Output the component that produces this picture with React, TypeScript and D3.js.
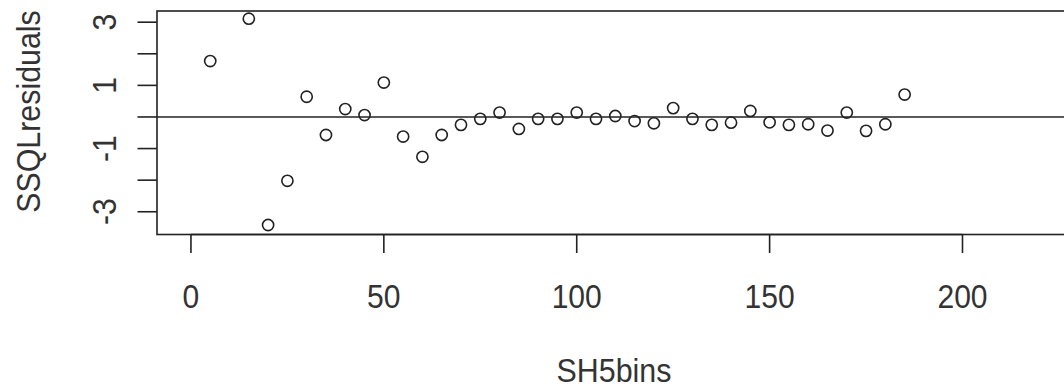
import React from "react";
import * as d3 from "d3";

const xValues = [5, 15, 20, 25, 30, 35, 40, 45, 50, 55, 60, 65, 70, 75, 80, 85, 90, 95, 100, 105, 110, 115, 120, 125, 130, 135, 140, 145, 150, 155, 160, 165, 170, 175, 180, 185];
const yValues = [1.77, 3.11, -3.42, -2.02, 0.64, -0.57, 0.25, 0.06, 1.09, -0.62, -1.26, -0.57, -0.25, -0.06, 0.14, -0.38, -0.06, -0.06, 0.14, -0.06, 0.03, -0.13, -0.2, 0.28, -0.06, -0.25, -0.18, 0.19, -0.17, -0.25, -0.23, -0.43, 0.14, -0.44, -0.23, 0.71];
const xTicks = [0, 50, 100, 150, 200];
const yTicks = [-3, -2, -1, 0, 1, 2, 3];
const yTickLabels = [-3, -1, 1, 3];
const xTitle = "SH5bins";
const yTitle = "SSQLresiduals";

const W = 1064;
const H = 388;
const FONT = "'Liberation Sans', Arial, sans-serif";
const INK = "#222";
const TEXT = "#333";

export default function App() {
  const x = d3.scaleLinear().domain([-8.8, 228.8]).range([157, 1073.6]);
  const y = d3.scaleLinear().domain([-3.72, 3.354]).range([234.5, 11]);
  const left = x.range()[0];
  const right = x.range()[1];
  const top = y.range()[1];
  const bottom = y.range()[0];

  return (
    <svg
      width={W}
      height={H}
      style={{ position: "absolute", left: 0, top: 0, display: "block", background: "#fff" }}
    >
      <rect x={0} y={0} width={W} height={H} fill="#fff" />
      <rect x={left} y={top} width={right - left} height={bottom - top} fill="none" stroke={INK} strokeWidth={1.6} />
      <line x1={left} x2={right} y1={y(0)} y2={y(0)} stroke={INK} strokeWidth={1.6} />
      {xValues.map((xv, i) => (
        <circle key={i} cx={x(xv)} cy={y(yValues[i])} r={5.6} fill="none" stroke={INK} strokeWidth={1.6} />
      ))}
      <line x1={x(xTicks[0])} x2={x(xTicks[xTicks.length - 1])} y1={bottom} y2={bottom} stroke={INK} strokeWidth={1.6} />
      {xTicks.map((t) => (
        <g key={t}>
          <line x1={x(t)} x2={x(t)} y1={bottom} y2={253} stroke={INK} strokeWidth={1.6} />
          <text
            transform={`translate(${x(t)},308) scale(0.97,1.06)`}
            textAnchor="middle"
            fontFamily={FONT}
            fontSize={31}
            fill={TEXT}
          >
            {t}
          </text>
        </g>
      ))}
      <text
        transform={`translate(614,382) scale(0.98,1.06)`}
        textAnchor="middle"
        fontFamily={FONT}
        fontSize={31}
        fill={TEXT}
      >
        {xTitle}
      </text>
      {yTicks.map((t) => (
        <line key={t} x1={137.5} x2={left} y1={y(t)} y2={y(t)} stroke={INK} strokeWidth={1.6} />
      ))}
      {yTickLabels.map((t) => (
        <text
          key={t}
          transform={`translate(116,${y(t)}) rotate(-90) scale(0.97,1.06)`}
          textAnchor="middle"
          fontFamily={FONT}
          fontSize={31}
          fill={TEXT}
        >
          {t}
        </text>
      ))}
      <text
        transform={`translate(40,111.5) rotate(-90) scale(0.98,1.06)`}
        textAnchor="middle"
        fontFamily={FONT}
        fontSize={31}
        fill={TEXT}
      >
        {yTitle}
      </text>
    </svg>
  );
}
